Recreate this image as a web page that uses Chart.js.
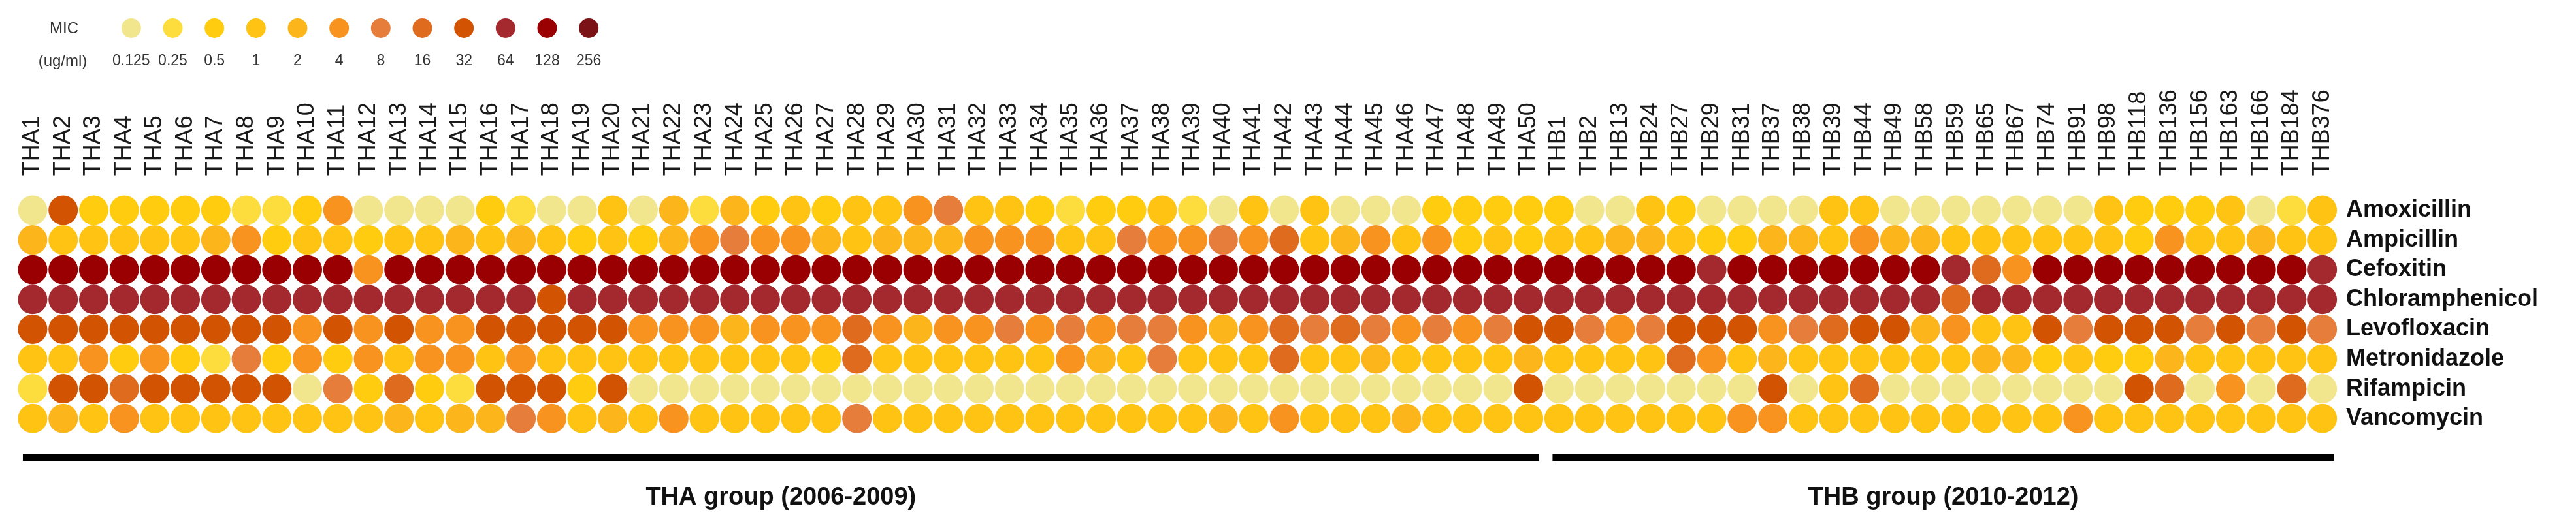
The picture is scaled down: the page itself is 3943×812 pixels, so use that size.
<!DOCTYPE html>
<html><head><meta charset="utf-8">
<script src="https://cdn.jsdelivr.net/npm/chart.js@4.4.1/dist/chart.umd.min.js"></script>
<style>
html,body{margin:0;padding:0;background:#fff;width:3943px;height:812px;overflow:hidden}
#mainWrap{position:absolute;left:0;top:0;width:3943px;height:812px}
#legendWrap{position:absolute;left:169px;top:0;width:764px;height:120px}
.mic{position:absolute;font-family:"Liberation Sans",Arial,sans-serif;font-size:24px;color:#333;transform:translate(-50%,-50%);white-space:nowrap}
</style></head><body>
<div id="mainWrap"><canvas id="main"></canvas></div>
<div id="legendWrap"><canvas id="legend"></canvas></div>
<div class="mic" style="left:98px;top:43px">MIC</div>
<div class="mic" style="left:96px;top:93px">(ug/ml)</div>
<script>
const FONT = '"Liberation Sans", Arial, Helvetica, sans-serif';

const isolates = ['THA1','THA2','THA3','THA4','THA5','THA6','THA7','THA8','THA9','THA10',
'THA11','THA12','THA13','THA14','THA15','THA16','THA17','THA18','THA19','THA20',
'THA21','THA22','THA23','THA24','THA25','THA26','THA27','THA28','THA29','THA30',
'THA31','THA32','THA33','THA34','THA35','THA36','THA37','THA38','THA39','THA40',
'THA41','THA42','THA43','THA44','THA45','THA46','THA47','THA48','THA49','THA50',
'THB1','THB2','THB13','THB24','THB27','THB29','THB31','THB37','THB38','THB39',
'THB44','THB49','THB58','THB59','THB65','THB67','THB74','THB91','THB98','THB118',
'THB136','THB156','THB163','THB166','THB184','THB376'];

const drugs = ['Amoxicillin','Ampicillin','Cefoxitin','Chloramphenicol','Levofloxacin','Metronidazole','Rifampicin','Vancomycin'];

const micLevels = [0.125,0.25,0.5,1,2,4,8,16,32,64,128,256];
const micLabels = ['0.125','0.25','0.5','1','2','4','8','16','32','64','128','256'];
const micColors = ['#F1E68E','#FDDC3E','#FFCC0F','#FFC313','#FDB51C','#F7931E','#E77D3B','#DF6B1F','#D25403','#A3292E','#9A0002','#7B1316'];

const amoxicillin = [0.125,32,0.5,0.5,0.5,0.5,0.5,0.25,0.25,0.5,4,0.125,
0.125,0.125,0.125,0.5,0.25,0.125,0.125,1,0.125,2,0.25,2,0.5,
1,0.5,1,1,4,8,1,1,0.5,0.25,0.5,0.5,1,
0.25,0.125,1,0.125,1,0.125,0.125,0.125,0.5,0.5,0.5,0.5,
0.5,0.125,0.125,1,0.5,0.125,0.125,0.125,0.125,1,1,0.125,0.125,
0.125,0.125,0.125,0.125,0.125,1,0.5,0.5,0.5,1,0.125,0.25,1];

const ampicillin = [2,1,1,1,1,1,2,4,0.5,1,1,0.5,
1,1,2,1,2,1,0.5,1,0.5,2,4,8,4,
4,2,1,2,2,2,4,4,4,1,1,8,4,
4,8,4,16,1,2,4,1,4,0.5,1,0.5,
1,1,2,2,1,0.5,0.5,2,2,1,4,2,2,
1,1,1,1,1,1,0.5,4,1,1,2,1,1];

const cefoxitin = [128,128,128,128,128,128,128,128,128,128,128,4,
128,128,128,128,128,128,128,128,128,128,128,128,128,
128,128,128,128,128,128,128,128,128,128,128,128,128,
128,128,128,128,128,128,128,128,128,128,128,128,
128,128,128,128,128,64,128,128,128,128,128,128,128,
64,16,4,128,128,128,128,128,128,128,128,128,64];

const chloramphenicol = [64,64,64,64,64,64,64,64,64,64,64,64,
64,64,64,64,64,32,64,64,64,64,64,64,64,
64,64,64,64,64,64,64,64,64,64,64,64,64,
64,64,64,64,64,64,64,64,64,64,64,64,
64,64,64,64,64,64,64,64,64,64,64,64,64,
16,64,64,64,64,64,64,64,64,64,64,64,64];

const levofloxacin = [32,32,32,32,32,32,32,32,32,4,32,4,
32,4,4,32,32,32,32,32,4,4,4,2,4,
4,4,16,4,2,4,4,8,4,8,4,8,8,
4,2,4,16,8,16,8,4,8,4,8,32,
32,8,4,8,32,32,32,4,8,16,32,32,2,
4,1,1,32,8,32,32,32,8,32,8,32,8];

const metronidazole = [1,1,4,0.5,4,0.5,0.25,8,0.5,4,0.5,4,
1,4,4,1,4,1,1,1,1,1,1,1,1,
1,0.5,16,1,1,1,1,1,1,4,2,1,8,
1,1,1,16,1,1,2,1,1,1,1,2,
1,1,1,1,16,4,1,2,1,1,1,1,1,
1,2,2,0.5,1,0.5,0.5,2,1,1,1,1,1];

const rifampicin = [0.25,32,32,16,32,32,32,32,32,0.125,8,0.5,
16,0.5,0.25,32,32,32,0.5,32,0.125,0.125,0.125,0.125,0.125,
0.125,0.125,0.125,0.125,0.125,0.125,0.125,0.125,0.125,0.125,0.125,0.125,0.125,
0.125,0.125,0.125,0.125,0.125,0.125,0.125,0.125,0.125,0.125,0.125,32,
0.125,0.125,0.125,0.125,0.125,0.125,0.125,32,0.125,1,16,0.125,0.125,
0.125,0.125,0.125,0.125,0.125,0.125,32,16,0.125,4,0.125,16,0.125];

const vancomycin = [1,2,1,4,1,1,1,1,1,1,1,1,
2,1,2,2,8,4,1,2,1,4,1,1,1,
1,1,8,1,1,1,1,1,1,1,1,1,1,
1,2,1,4,1,1,1,2,1,1,1,1,
1,1,1,1,1,1,4,4,1,1,1,1,1,
1,1,1,1,4,1,1,1,1,1,1,1,1];

const seriesByDrug = [amoxicillin, ampicillin, cefoxitin, chloramphenicol, levofloxacin, metronidazole, rifampicin, vancomycin];

const groups = [
  {label:'THA group (2006-2009)', first:'THA1', last:'THA50'},
  {label:'THB group (2010-2012)', first:'THB1', last:'THB376'}
];

function colorFor(v){ return micColors[micLevels.indexOf(v)]; }

const groupPlugin = {
  id:'groupBars',
  afterDraw(chart){
    const ctx = chart.ctx, xs = chart.scales.x, area = chart.chartArea;
    const lineY = area.bottom + 37;
    ctx.save();
    groups.forEach((g, k) => {
      const x1 = xs.getPixelForValue(isolates.indexOf(g.first)) - (k===0 ? 15 : 10);
      const x2 = xs.getPixelForValue(isolates.indexOf(g.last)) + (k===0 ? 16 : 18);
      ctx.fillStyle = '#000';
      ctx.fillRect(x1, lineY - 5, x2 - x1, 10);
      ctx.font = 'bold 38px ' + FONT;
      ctx.textAlign = 'center';
      ctx.textBaseline = 'middle';
      ctx.fillStyle = '#111';
      ctx.fillText(g.label, (x1 + x2) / 2, lineY + 62);
    });
    ctx.restore();
  }
};

function noPad(s){ s.paddingLeft = 0; s.paddingRight = 0; s.paddingTop = 0; s.paddingBottom = 0; }

new Chart(document.getElementById('main'), {
  type:'scatter',
  data:{
    datasets: drugs.map((d,k) => ({
      label: d,
      data: isolates.map(iso => ({x: iso, y: d})),
      backgroundColor: seriesByDrug[k].map(colorFor),
      borderWidth: 0,
      pointRadius: 22.5,
      pointHoverRadius: 22.5
    }))
  },
  options:{
    responsive:true, maintainAspectRatio:false, animation:false, events:[],
    layout:{autoPadding:false, padding:{left:26.6, right:0, top:0, bottom:148}},
    plugins:{legend:{display:false}, tooltip:{enabled:false}},
    scales:{
      x:{
        type:'category', labels: isolates, position:'top', offset:true,
        grid:{display:false, drawTicks:false}, border:{display:false},
        ticks:{autoSkip:false, minRotation:90, maxRotation:90, padding:30, labelOffset:43.2,
               font:{size:36, family:FONT}, color:'#1a1a1a'},
        afterFit(s){ s.height = 299.2; noPad(s); }
      },
      y:{
        type:'category', labels: drugs, position:'right', offset:true,
        grid:{display:false, drawTicks:false}, border:{display:false},
        ticks:{autoSkip:false, padding:13, font:{size:36, weight:'bold', family:FONT}, color:'#111'},
        afterFit(s){ s.width = 365; noPad(s); }
      }
    }
  },
  plugins:[groupPlugin]
});

new Chart(document.getElementById('legend'), {
  type:'scatter',
  data:{ datasets:[{
    data: micLabels.map(l => ({x:l, y:'MIC'})),
    backgroundColor: micColors, borderWidth:0, pointRadius:15, pointHoverRadius:15
  }]},
  options:{
    responsive:true, maintainAspectRatio:false, animation:false, events:[],
    layout:{autoPadding:false, padding:{top:23, left:0, right:0, bottom:0}},
    plugins:{legend:{display:false}, tooltip:{enabled:false}},
    scales:{
      x:{type:'category', labels: micLabels, offset:true,
         grid:{display:false, drawTicks:false}, border:{display:false},
         ticks:{padding:17, autoSkip:false, maxRotation:0, font:{size:23, family:FONT}, color:'#333'},
         afterFit(s){ s.height = 57; noPad(s); }},
      y:{type:'category', labels:['MIC'], offset:true, display:false}
    }
  }
});
</script>
</body></html>
